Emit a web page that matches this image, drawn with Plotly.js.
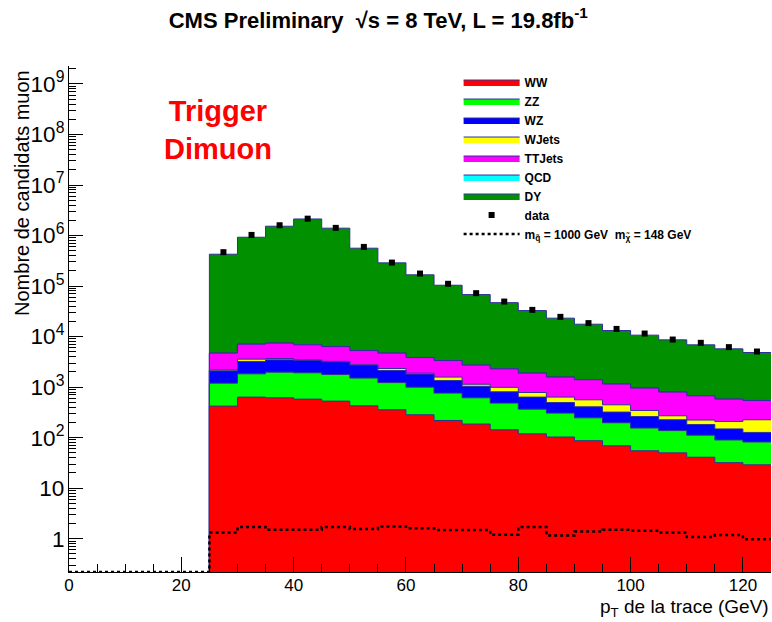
<!DOCTYPE html>
<html><head><meta charset="utf-8">
<script src="https://cdn.plot.ly/plotly-3.0.1.min.js"></script>
<style>html,body{margin:0;padding:0;background:#fff}</style>
</head><body>
<div id="chart" style="width:772px;height:622px"></div>
<script>
// bin edges (GeV)
const binEdges = [25,30,35,40,45,50,55,60,65,70,75,80,85,90,95,100,105,110,115,120,125];
const sigEdges = [0,5,10,15,20,25,30,35,40,45,50,55,60,65,70,75,80,85,90,95,100,105,110,115,120,125];

// individual (non-stacked) background contributions per bin
const WW     = [421,635,615,579,529,427,356,284,219,186,143,119,103,87,69,55,50,41,32,29];
const ZZ     = [779,1195,1365,1341,1251,1083,874,716,543,429,340,248,203,160,128,100,88,71,58,53];
const WZ     = [900,1380,1490,1470,1390,1220,900,810,588,425,325,268,190,161,124,107,88,70,59,45];
const WJets  = [100,370,210,80,70,30,210,80,230,100,183,148,139,153,126,83,45,41,60,99];
const TTJets = [2510,3510,3750,3400,3120,2540,2370,1960,1780,1590,1309,1107,945,839,703,612,527,450,370,318];
const QCD    = [0,0,0,0,0,0,0,0,0,0,0,0,0,0,0,0,0,0,0,0];
const DY     = [422300,919900,1522600,2123100,1393600,556700,283300,163200,100600,65200,44700,30900,21600,16200,12050,9740,7830,6200,5150,4300];

const dataVals = [469000,1030000,1600000,2160000,1420000,596000,292000,177000,111000,72400,49400,33800,24600,18500,14200,11500,8750,7530,6190,5070];
const sigVals  = [0,0,0,0,0,1.32,1.70,1.51,1.51,1.70,1.56,1.75,1.61,1.49,1.49,1.20,1.70,1.16,1.39,1.51,1.44,1.32,1.08,1.18,0.98];

const yRange = [-0.659, 9.356];
const yFloor = Math.pow(10, yRange[0]);

// stacking
const comps = [
  {name:'WW', vals:WW, color:'#ff0000', rank:1},
  {name:'ZZ', vals:ZZ, color:'#00ff00', rank:2},
  {name:'WZ', vals:WZ, color:'#0000ff', rank:3},
  {name:'WJets', vals:WJets, color:'#ffff00', rank:4},
  {name:'TTJets', vals:TTJets, color:'#ff00ff', rank:5},
  {name:'QCD', vals:QCD, color:'#00ffff', rank:6},
  {name:'DY', vals:DY, color:'#009000', rank:7}
];
let run = WW.map(() => 0);
comps.forEach(c => { run = run.map((r,i) => r + c.vals[i]); c.cum = run.slice(); });

function stepX(edges){ return [edges[0]].concat(edges); }
function stepY(vals){ return [yFloor].concat(vals, [vals[vals.length-1]]); }

const traces = [];
comps.slice().reverse().forEach(c => {
  traces.push({
    type:'scatter', mode:'lines', name:c.name, legendrank:c.rank,
    x: stepX(binEdges), y: stepY(c.cum),
    line:{shape:'hv', color:'#30309a', width:1},
    fill:'tozeroy', fillcolor:c.color, hoverinfo:'skip'
  });
});

const sigY = sigVals.map(v => v > 0 ? v : yFloor);
traces.push({
  type:'scatter', mode:'lines', name:'m<sub>q\u0303</sub> = 1000 GeV\u00a0\u00a0m<sub>\u03c7\u0303</sub> = 148 GeV', legendrank:9,
  x: sigEdges, y: sigY.concat([sigY[sigY.length-1]]),
  line:{shape:'hv', color:'#000', width:2.5, dash:'dot'}, hoverinfo:'skip'
});

const centers = binEdges.slice(0,-1).map((e,i) => (e + binEdges[i+1]) / 2);
traces.push({
  type:'scatter', mode:'markers', name:'data', legendrank:8,
  x: centers, y: dataVals,
  marker:{symbol:'square', size:6, color:'#000'}, hoverinfo:'skip'
});

const layout = {
  width:772, height:622,
  margin:{l:69, r:1, t:66, b:50, pad:0},
  paper_bgcolor:'#fff', plot_bgcolor:'#fff',
  font:{family:'"Liberation Sans", Arial, sans-serif', color:'#000'},
  title:{text:'<b>CMS Preliminary  \u221As = 8 TeV, L = 19.8fb<sup>-1</sup></b>', font:{size:22, color:'#000'},
         x:0.49, xanchor:'center', y:0.968, yanchor:'middle'},
  xaxis:{range:[0,125], tick0:0, dtick:20, ticks:'inside', ticklen:15, tickcolor:'#000', tickwidth:1,
         showline:true, linecolor:'#000', linewidth:1, showgrid:false, zeroline:false,
         tickfont:{size:17}, ticklabelstandoff:-2,
         minor:{dtick:5, ticks:'inside', ticklen:8, tickcolor:'#000', showgrid:false}},
  yaxis:{type:'log', range:yRange, dtick:1, exponentformat:'power', ticks:'inside', ticklen:14, tickcolor:'#000',
         showline:true, linecolor:'#000', linewidth:1, showgrid:false, zeroline:false,
         tickfont:{size:18},
         minor:{dtick:'D1', ticks:'inside', ticklen:7, tickcolor:'#000', showgrid:false}},
  showlegend:true,
  legend:{x:0.555, y:0.997, xanchor:'left', yanchor:'top', bgcolor:'rgba(0,0,0,0)',
          font:{size:12, color:'#000', weight:'bold'}, itemwidth:56, traceorder:'normal', tracegroupgap:0},
  annotations:[
    {text:'<b>Trigger<br>Dimuon</b>', xref:'paper', yref:'paper', x:0.212, y:0.874, showarrow:false,
     font:{size:29, color:'#ff0000'}, align:'center', xanchor:'center', yanchor:'middle'},
    {text:'Nombre de candidats muon', xref:'paper', yref:'paper', x:-0.067, y:0.749, showarrow:false,
     textangle:-90, font:{size:20}, xanchor:'center', yanchor:'middle'},
    {text:'p<sub>T</sub> de la trace (GeV)', xref:'paper', yref:'paper', x:1.0, y:-0.071, showarrow:false,
     font:{size:19}, xanchor:'right', yanchor:'middle'}
  ]
};

Plotly.newPlot('chart', traces, layout, {staticPlot:true, displayModeBar:false});
</script>
</body></html>
